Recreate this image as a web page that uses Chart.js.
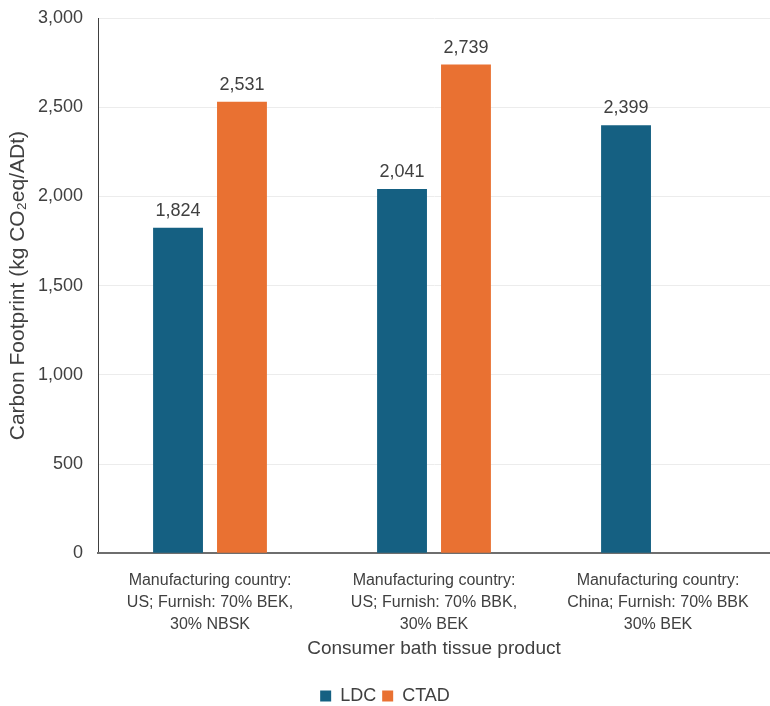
<!DOCTYPE html>
<html>
<head>
<meta charset="utf-8">
<script src="https://cdn.jsdelivr.net/npm/chart.js@4"></script>
<style>
  body { margin: 0; background: #fff; }
  #wrap { width: 770px; height: 706px; }
</style>
</head>
<body>
<div id="wrap"><canvas id="myChart"></canvas></div>
<script>
  const categories = [
    ['Manufacturing country:', 'US; Furnish: 70% BEK,', '30% NBSK'],
    ['Manufacturing country:', 'US; Furnish: 70% BBK,', '30% BEK'],
    ['Manufacturing country:', 'China; Furnish: 70% BBK', '30% BEK']
  ];
  const ldcValues = [1824, 2041, 2399];
  const ctadValues = [2531, 2739, null];
  const yTicks = [0, 500, 1000, 1500, 2000, 2500, 3000];

  Chart.defaults.font.family = '"Liberation Sans", Arial, sans-serif';
  Chart.defaults.color = '#404040';

  // writes the value above each bar
  const barValues = {
    id: 'barValues',
    afterDatasetsDraw(chart) {
      const c = chart.ctx;
      c.save();
      c.font = '18px "Liberation Sans", Arial, sans-serif';
      c.fillStyle = '#404040';
      c.textAlign = 'center';
      c.textBaseline = 'bottom';
      chart.data.datasets.forEach((ds, i) => {
        chart.getDatasetMeta(i).data.forEach((bar, j) => {
          const v = ds.data[j];
          if (v == null) return;
          c.fillText(v.toLocaleString('en-US'), bar.x, bar.y - 8);
        });
      });
      c.restore();
    }
  };

  const ctx = document.getElementById('myChart');

  new Chart(ctx, {
    type: 'bar',
    data: {
      labels: categories,
      datasets: [
        {
          label: 'LDC',
          data: ldcValues,
          backgroundColor: '#156082',
          borderWidth: 0,
          categoryPercentage: 0.571,
          barPercentage: 0.78
        },
        {
          label: 'CTAD',
          data: ctadValues,
          backgroundColor: '#E97132',
          borderWidth: 0,
          categoryPercentage: 0.571,
          barPercentage: 0.78
        }
      ]
    },
    options: {
      responsive: true,
      maintainAspectRatio: false,
      animation: false,
      layout: { padding: { top: 18, right: 0, left: 0, bottom: -9 } },
      plugins: {
        legend: {
          position: 'bottom',
          labels: {
            boxWidth: 11,
            boxHeight: 11,
            padding: 6,
            font: { size: 18 },
            color: '#404040'
          }
        },
        tooltip: { enabled: false }
      },
      scales: {
        y: {
          min: yTicks[0],
          max: yTicks[yTicks.length - 1],
          afterBuildTicks(scale) { scale.ticks = yTicks.map(v => ({ value: v })); },
          ticks: {
            padding: 15,
            font: { size: 18 },
            color: '#404040',
            callback: v => v.toLocaleString('en-US')
          },
          grid: { color: '#ececec', drawTicks: false },
          border: { display: true, color: '#404040', width: 1 },
          title: {
            display: true,
            text: 'Carbon Footprint (kg CO₂eq/ADt)',
            font: { size: 21 },
            color: '#404040',
            padding: { top: 6, bottom: 0 }
          },
          afterFit(scale) {
            scale.width = 98;
            scale.paddingTop = 0;
            scale.paddingBottom = 0;
          }
        },
        x: {
          ticks: {
            font: { size: 16, lineHeight: '22px' },
            color: '#404040',
            maxRotation: 0,
            autoSkip: false,
            padding: 8
          },
          grid: { display: false },
          border: { color: '#6e6e6e', width: 2 },
          title: {
            display: true,
            text: 'Consumer bath tissue product',
            font: { size: 19 },
            color: '#404040',
            padding: { top: -6, bottom: 21 }
          }
        }
      }
    },
    plugins: [barValues]
  });
</script>
</body>
</html>
